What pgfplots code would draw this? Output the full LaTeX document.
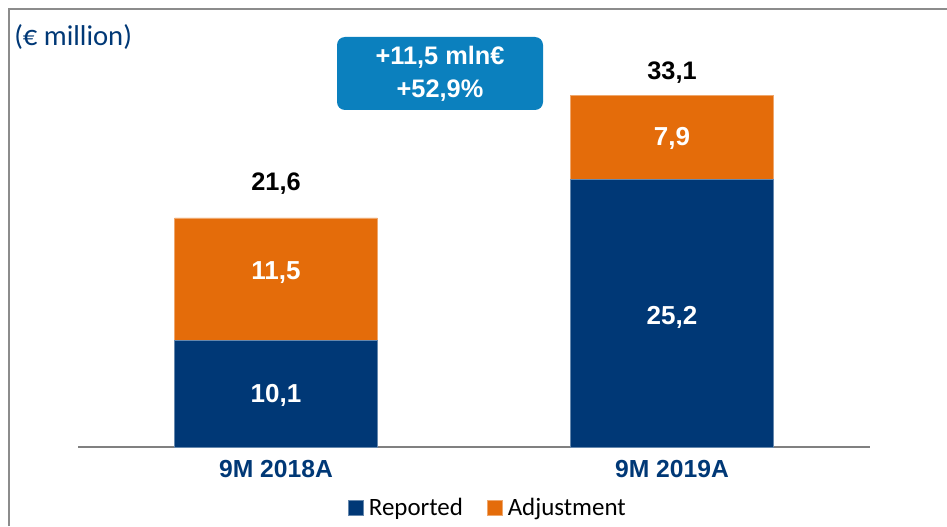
\documentclass[border=0pt]{standalone}
\usepackage{pgfplots}
\pgfplotsset{compat=1.18}
\usepackage{fontspec}
\setmainfont{Liberation Sans}
\newfontfamily\calibri{Carlito}
\definecolor{navy}{RGB}{0,56,118}
\definecolor{orng}{RGB}{228,108,10}
\definecolor{boxblue}{RGB}{11,128,190}
\definecolor{framegray}{RGB}{140,140,140}
\definecolor{axgray}{RGB}{128,128,128}
\tikzset{vl/.style={text=white, font=\fontsize{19.5}{22}\selectfont\bfseries, inner sep=0pt},
         tl/.style={text=black, font=\fontsize{19}{22}\selectfont\bfseries, inner sep=0pt}}
\begin{document}
\begin{tikzpicture}
\useasboundingbox (0,0) rectangle (710.25pt,394.5pt);
\draw[framegray, line width=1.5pt] (6.75pt,0) -- (6.75pt,387.75pt) -- (711pt,387.75pt);
\node[anchor=west, text=navy, font=\calibri\fontsize{21.5}{24}\selectfont, inner sep=0pt] at (10.5pt,366.75pt) {(€ million)};
\fill[boxblue, rounded corners=6pt] (252.75pt,312pt) rectangle (407.25pt,366.75pt);
\node[text=white, font=\fontsize{19}{22}\selectfont\bfseries, inner sep=0pt] at (330pt,351.5pt) {+11,5 mln€};
\node[text=white, font=\fontsize{19}{22}\selectfont\bfseries, inner sep=0pt] at (330pt,326.5pt) {+52,9\%};
\begin{axis}[
  at={(58.5pt,58.9pt)}, anchor=south west,
  width=594pt, height=279pt, scale only axis,
  ybar stacked, bar width=152pt,
  xmin=-0.5, xmax=1.5, ymin=0, ymax=35,
  xtick=data, xticklabels={9M 2018A, 9M 2019A},
  major tick length=0pt,
  axis x line*=bottom, axis y line=none,
  x axis line style={axgray, line width=1.5pt, -},
  xticklabel style={font=\fontsize{18.5}{20}\selectfont\bfseries, text=navy, yshift=-6pt},
  clip=false,
  legend columns=2,
  legend style={at={(0.518,-0.162)}, anchor=center, draw=none, fill=none,
    font=\calibri\fontsize{18.7}{20}\selectfont,
    /tikz/every even column/.append style={column sep=16pt}},
  legend image code/.code={\fill[#1] (0pt,-5.6pt) rectangle (11.2pt,5.6pt);},
  legend cell align=left,
]
\addplot[fill=navy, draw=navy!60!white, line width=0.4pt] coordinates {(0,10.1) (1,25.2)};
\addplot[fill=orng, draw=orng!60!white, line width=0.4pt] coordinates {(0,11.5) (1,7.9)};
\legend{\hspace{2pt}Reported, \hspace{2pt}Adjustment}
\coordinate (v1) at (axis cs:0,4.85);
\coordinate (v2) at (axis cs:0,16.5);
\coordinate (v3) at (axis cs:1,12.2);
\coordinate (v4) at (axis cs:1,29.03);
\coordinate (t1) at (axis cs:0,24.78);
\coordinate (t2) at (axis cs:1,35.3);
\end{axis}
\node[vl] at (v1) {10,1};
\node[vl] at (v2) {11,5};
\node[vl] at (v3) {25,2};
\node[vl] at (v4) {7,9};
\node[tl] at (t1) {21,6};
\node[tl] at (t2) {33,1};
\end{tikzpicture}
\end{document}
